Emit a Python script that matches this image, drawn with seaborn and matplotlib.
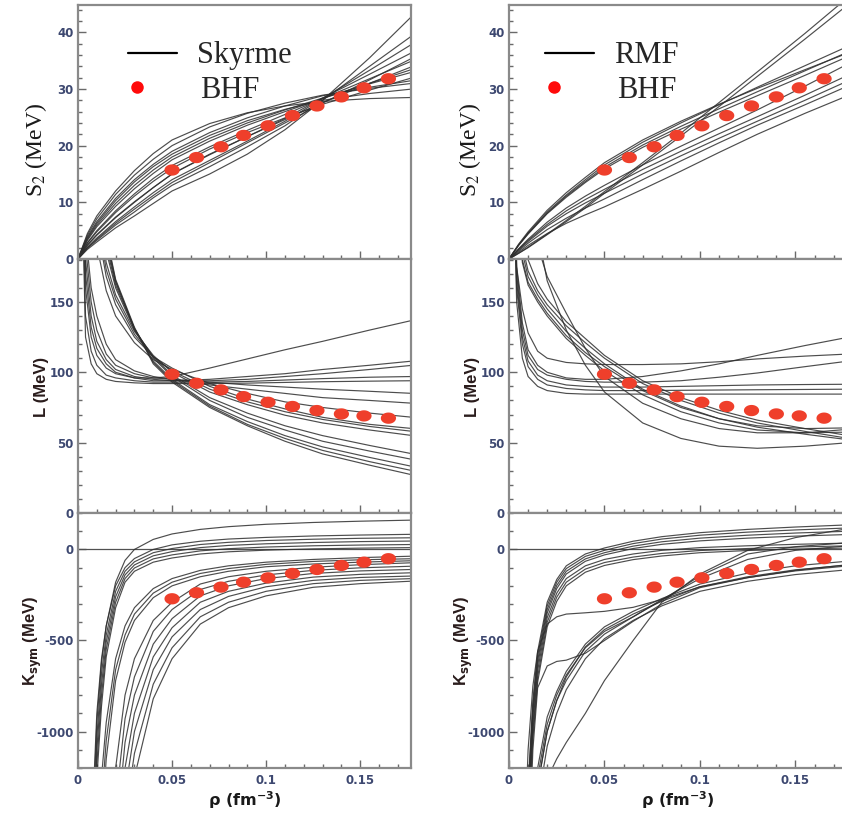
import numpy as np
import pandas as pd
import matplotlib
matplotlib.use("Agg")
import matplotlib.pyplot as plt
from matplotlib.lines import Line2D
from matplotlib.path import Path
from matplotlib.ticker import MultipleLocator
import seaborn as sns

# ---------------- data ----------------
RHO_S = [0, 0.005, 0.01, 0.02, 0.03, 0.04, 0.05, 0.07, 0.09, 0.11, 0.13, 0.155, 0.178]
RHO_L = [0.002, 0.004, 0.007, 0.01, 0.015, 0.02, 0.03, 0.04, 0.05, 0.07, 0.09, 0.11, 0.13, 0.155, 0.178]
RHO_K = [0.005, 0.0075, 0.01, 0.0125, 0.015, 0.02, 0.025, 0.03, 0.04, 0.05, 0.065, 0.08, 0.1, 0.125, 0.15, 0.178]

skyrme_S2 = [
    [0, 1.7, 3.0, 5.5, 7.6, 9.8, 12.0, 15.0, 18.5, 22.8, 28.0, 35.5, 43.0],
    [0, 1.9, 3.3, 6.0, 8.3, 10.8, 13.0, 16.3, 19.8, 23.5, 28.0, 34.0, 39.5],
    [0, 2.1, 3.7, 6.6, 9.2, 11.7, 14.0, 17.4, 20.8, 24.3, 28.3, 33.3, 38.0],
    [0, 2.4, 4.2, 7.3, 10.0, 12.6, 15.0, 18.4, 21.6, 24.8, 28.4, 32.6, 36.5],
    [0, 2.0, 3.5, 6.3, 8.8, 11.2, 13.5, 17.0, 20.5, 24.0, 27.5, 31.6, 35.5],
    [0, 2.9, 5.0, 8.5, 11.5, 14.2, 16.5, 19.8, 22.7, 25.5, 28.3, 31.8, 35.0],
    [0, 2.5, 4.3, 7.4, 10.1, 12.6, 15.0, 18.5, 21.6, 24.6, 27.6, 31.0, 34.0],
    [0, 3.3, 5.7, 9.3, 12.4, 15.1, 17.5, 20.8, 23.6, 26.0, 28.3, 31.0, 33.5],
    [0, 3.5, 6.0, 9.8, 13.0, 15.7, 18.0, 21.3, 24.0, 26.3, 28.4, 30.9, 33.0],
    [0, 2.8, 4.8, 8.2, 11.1, 13.7, 16.0, 19.4, 22.3, 24.9, 27.3, 29.8, 32.0],
    [0, 3.9, 6.6, 10.7, 14.0, 16.7, 19.0, 22.3, 24.9, 27.0, 28.8, 30.3, 31.5],
    [0, 4.2, 7.1, 11.4, 14.8, 17.6, 20.0, 23.3, 25.7, 27.5, 28.9, 30.1, 31.0],
    [0, 3.7, 6.3, 10.3, 13.6, 16.3, 18.5, 21.8, 24.4, 26.4, 28.0, 29.2, 30.0],
    [0, 4.5, 7.6, 12.0, 15.6, 18.6, 21.0, 23.9, 25.8, 27.0, 27.8, 28.3, 28.5],
]

skyrme_L = [
    [300, 160, 125, 112, 103, 99, 96, 96, 97, 103, 109.5, 116, 122, 130, 137],
    [320, 170, 132, 117, 106, 100, 96, 94, 94, 95, 97, 99, 102, 105, 108],
    [340, 180, 140, 122, 109, 102, 97, 95, 94, 94, 95, 97, 99, 102, 105],
    [260, 140, 115, 105, 98, 96, 94, 93, 93, 93, 93.5, 94.5, 95.5, 96.5, 97],
    [240, 125, 106, 99, 95, 93.5, 92.5, 92, 92, 92, 92.3, 92.8, 93.3, 93.7, 94],
    [360, 190, 150, 130, 113, 105, 99, 96, 95, 93, 91, 89.5, 88, 86.5, 85],
    [380, 200, 160, 140, 120, 109, 101, 97, 95, 91, 88, 85, 82, 80, 78],
    [600, 400, 240, 190, 158, 140, 121, 109, 102, 92, 85, 79, 75, 71, 68],
    [600, 400, 250, 205, 168, 148, 125, 111, 103, 90, 81, 74, 68, 63, 60],
    [600, 420, 260, 212, 173, 152, 127, 111, 101, 88, 79, 72, 66.5, 61.5, 58],
    [600, 430, 265, 220, 178, 155, 129, 112, 100, 86, 77, 69.5, 64, 59, 55],
    [700, 450, 280, 232, 186, 160, 130, 111, 98, 82, 71, 62, 55, 48, 42],
    [700, 460, 285, 238, 190, 162, 131, 110, 97, 80, 68, 59, 51, 44, 38],
    [700, 470, 290, 242, 193, 164, 131, 108, 95, 77, 65, 55, 47, 39.5, 33],
    [700, 480, 300, 248, 196, 165, 131, 107, 94, 76, 63, 53, 44.5, 36.5, 30],
    [700, 490, 305, 252, 198, 166, 132, 106, 93, 75, 62, 51, 42, 34, 27],
]

skyrme_K = [
    [-2500, -1500, -900, -600, -420, -180, -60, 0, 55, 85, 110, 125, 138, 148, 155, 161],
    [-3000, -1600, -950, -620, -420, -200, -100, -50, 0, 25, 45, 57, 66, 74, 79, 83],
    [-3200, -1750, -1030, -680, -470, -230, -120, -68, -18, 5, 27, 39, 49, 56, 61, 64],
    [-3400, -1900, -1100, -740, -510, -260, -140, -85, -35, -12, 10, 22, 31, 38, 43, 46],
    [-3600, -2050, -1180, -800, -550, -290, -160, -102, -52, -30, -8, 4, 13, 20, 24, 27],
    [-3800, -2200, -1260, -860, -590, -320, -180, -120, -70, -47, -25, -13, -4, 3, 7, 10],
    [-5000, -3000, -1800, -1250, -950, -600, -420, -320, -215, -160, -115, -90, -70, -55, -45, -37],
    [-5500, -3300, -2000, -1400, -1050, -660, -470, -355, -240, -180, -132, -105, -82, -66, -57, -51],
    [-6000, -3600, -2200, -1550, -1150, -720, -510, -390, -265, -200, -150, -120, -95, -80, -70, -62],
    [-20000, -12000, -7000, -4000, -2400, -1200, -800, -600, -390, -290, -190, -150, -120, -98, -84, -73],
    [-22000, -13000, -8000, -4500, -2700, -1400, -930, -700, -450, -330, -220, -175, -140, -115, -101, -92],
    [-24000, -14000, -8500, -5000, -3000, -1600, -1060, -800, -520, -380, -255, -200, -160, -132, -118, -110],
    [-26000, -15000, -9000, -5500, -3300, -1800, -1200, -900, -590, -430, -290, -230, -185, -152, -137, -128],
    [-28000, -16000, -10000, -6000, -3600, -2000, -1330, -1000, -660, -480, -330, -258, -205, -170, -154, -146],
    [-30000, -17000, -11000, -6500, -4000, -2200, -1480, -1120, -740, -540, -370, -290, -230, -188, -170, -160],
    [-32000, -18000, -12000, -7000, -4400, -2450, -1640, -1250, -820, -600, -410, -320, -255, -208, -188, -174],
]

rmf_S2 = [
    [0, 1.0, 2.1, 4.4, 6.8, 9.3, 11.9, 17.0, 22.2, 27.6, 33.0, 39.8, 46.3],
    [0, 1.0, 2.0, 4.3, 6.6, 9.0, 11.6, 16.6, 21.7, 26.9, 32.2, 38.8, 45.0],
    [0, 2.5, 4.6, 8.3, 11.3, 14.0, 16.6, 20.6, 24.0, 27.2, 30.3, 34.1, 37.6],
    [0, 2.4, 4.5, 8.1, 11.1, 13.7, 16.2, 20.1, 23.4, 26.5, 29.5, 33.2, 36.6],
    [0, 2.4, 4.4, 8.0, 10.9, 13.5, 15.9, 19.7, 22.9, 25.9, 28.8, 32.4, 35.8],
    [0, 2.6, 4.8, 8.6, 11.7, 14.4, 17.0, 21.0, 24.3, 27.3, 30.1, 33.4, 36.4],
    [0, 1.8, 3.5, 6.5, 9.0, 11.1, 13.0, 16.6, 19.9, 23.1, 26.3, 30.5, 34.5],
    [0, 1.7, 3.3, 6.1, 8.5, 10.5, 12.3, 15.8, 19.0, 22.1, 25.1, 28.9, 32.5],
    [0, 1.6, 3.1, 5.8, 8.0, 9.9, 11.6, 15.0, 18.2, 21.3, 24.3, 28.0, 31.5],
    [0, 1.2, 2.4, 4.5, 6.3, 7.8, 9.2, 12.3, 15.5, 18.8, 22.0, 25.7, 28.9],
    [0, 1.4, 2.8, 5.2, 7.2, 9.0, 10.6, 14.0, 17.3, 20.5, 23.6, 27.2, 30.6],
]

rmf_L = [
    [260, 150, 110, 97, 90, 87, 85, 84.5, 84.5, 84.5, 84.5, 84.5, 84.5, 84.5, 84.5],
    [280, 160, 120, 104, 95, 91, 88.5, 87.5, 87, 87, 87.2, 87.4, 87.6, 87.8, 88],
    [290, 165, 125, 108, 98, 94, 91, 90, 89.5, 89.5, 90, 90.5, 91, 91.3, 91.5],
    [300, 170, 130, 112, 102, 98, 95, 93.5, 93, 93, 94, 96.5, 99.5, 104, 108],
    [310, 175, 135, 116, 105, 100, 96, 95, 95, 97, 101, 106, 112, 119, 125],
    [320, 175, 145, 128, 115, 110, 107, 106, 105.5, 105.5, 106, 107.5, 109.5, 111.5, 113],
    [500, 260, 190, 172, 158, 148, 133, 121, 110, 92, 80, 71, 64, 58, 53],
    [520, 280, 200, 180, 163, 152, 136, 124, 112, 94, 82, 73, 66, 60, 55],
    [480, 250, 185, 168, 155, 145, 129, 117, 106, 88, 76, 67, 61, 56, 52],
    [460, 240, 180, 164, 152, 142, 126, 114, 104, 87, 75, 67, 62, 60, 60.5],
    [450, 235, 178, 162, 150, 140, 124, 112, 101, 84, 72, 64, 59, 57, 57.5],
    [900, 700, 500, 350, 190, 168, 142, 117, 97, 78, 67, 60, 57, 57, 59.5],
    [1000, 800, 600, 400, 200, 165, 130, 105, 86, 64, 53, 47.5, 46, 47.5, 50],
]

rmf_K = [
    [-4000, -2200, -1300, -830, -560, -290, -165, -90, -25, 8, 45, 70, 92, 110, 123, 135],
    [-4100, -2250, -1330, -860, -585, -310, -180, -105, -38, -5, 32, 57, 78, 95, 107, 118],
    [-4200, -2300, -1370, -890, -610, -330, -198, -120, -52, -18, 18, 42, 62, 78, 90, 100],
    [-4300, -2350, -1410, -920, -635, -350, -215, -135, -65, -30, 5, 28, 47, 62, 73, 82],
    [-4400, -2400, -1450, -960, -665, -375, -240, -160, -90, -55, -25, -5, 10, 20, 28, 35],
    [-4500, -2450, -1490, -1000, -700, -400, -262, -180, -108, -72, -42, -22, -6, 5, 13, 20],
    [-4600, -2500, -1530, -1040, -730, -425, -285, -200, -125, -88, -56, -36, -18, -6, 2, 8],
    [-3000, -2600, -2200, -1800, -1400, -1260, -1150, -1060, -900, -720, -500, -290, -135, -5, 65, 115],
    [-3000, -1800, -1100, -750, -560, -410, -370, -355, -348, -340, -318, -275, -205, -150, -112, -85],
    [-4000, -2600, -1800, -1100, -760, -640, -615, -608, -570, -500, -395, -300, -210, -155, -115, -83],
    [-6000, -4000, -2500, -1700, -1300, -1000, -830, -700, -535, -440, -355, -285, -205, -155, -118, -90],
    [-6500, -4300, -2700, -1850, -1400, -1080, -900, -770, -600, -490, -390, -310, -230, -175, -138, -111],
    [-6000, -3800, -2400, -1600, -1250, -960, -800, -690, -540, -450, -370, -280, -145, -25, 15, 37],
    [-6200, -3900, -2500, -1700, -1300, -1000, -830, -720, -560, -465, -370, -275, -160, -55, -5, 20],
    [-5800, -3700, -2300, -1550, -1200, -920, -780, -670, -520, -425, -340, -270, -190, -130, -90, -64],
]

bhf_rho = [0.050, 0.063, 0.076, 0.088, 0.101, 0.114, 0.127, 0.140, 0.152, 0.165]
bhf_S2 = [15.7, 17.9, 19.8, 21.8, 23.5, 25.3, 27.0, 28.6, 30.2, 31.8]
bhf_L = [98.6, 92.2, 87.5, 82.7, 78.7, 75.7, 72.8, 70.4, 69.0, 67.4]
bhf_K = [-271, -238, -207, -180, -156, -132, -110, -88, -70, -51]

model_names = ["Skyrme", "RMF"]
x_ticklabels = ["0", "0.05", "0.1", "0.15"]

# ---------------- style ----------------
sns.set_style("ticks")
plt.rcParams["font.family"] = ["DejaVu Sans"]
plt.rcParams["axes.unicode_minus"] = False

SPINE = "#8a8a8a"
TICKC = "#3d4870"
LINEC = "#2e2e2e"
DOTC = "#ef3f2b"


def long_df(grid, curves):
    rows = []
    for i, c in enumerate(curves):
        for r, v in zip(grid, c):
            rows.append((i, r, v))
    return pd.DataFrame(rows, columns=["curve", "rho", "val"])


theta = np.linspace(0, 2 * np.pi, 60)
ellipse = Path(np.column_stack([1.35 * np.cos(theta), np.sin(theta)]))

fig = plt.figure(figsize=(8.42, 8.13), dpi=100)

col_left = [78 / 842, 509 / 842]
col_width = [333 / 842, 338 / 842]
rows = [(0.6814, 0.3124), (0.369, 0.3124), (0.0554, 0.3136)]

panels = [
    [(RHO_S, skyrme_S2, bhf_S2), (RHO_L, skyrme_L, bhf_L), (RHO_K, skyrme_K, bhf_K)],
    [(RHO_S, rmf_S2, bhf_S2), (RHO_L, rmf_L, bhf_L), (RHO_K, rmf_K, bhf_K)],
]
ylims = [(0, 44.8), (0, 180.5), (-1200, 200)]
yticks = [[0, 10, 20, 30, 40], [0, 50, 100, 150], [-1000, -500, 0]]
yminor = [2, 10, 100]
label_x = [[-0.088, -0.088, -0.102], [-0.078, -0.086, -0.100]]

for c in range(2):
    for r in range(3):
        ax = fig.add_axes([col_left[c], rows[r][0], col_width[c], rows[r][1]])
        grid, curves, bhf = panels[c][r]
        df = long_df(grid, curves)
        if r == 2:
            ax.axhline(0, color="#505050", lw=0.9, zorder=1)
        sns.lineplot(data=df, x="rho", y="val", units="curve", estimator=None,
                     sort=False, color=LINEC, lw=0.85, alpha=0.85, legend=False, ax=ax)
        sns.scatterplot(x=bhf_rho, y=bhf, marker=ellipse, s=120, color=DOTC,
                        edgecolor="none", ax=ax, zorder=5, legend=False)
        ax.set_xlim(0, 0.177)
        ax.set_ylim(*ylims[r])
        ax.set_yticks(yticks[r])
        ax.yaxis.set_minor_locator(MultipleLocator(yminor[r]))
        ax.xaxis.set_major_locator(MultipleLocator(0.05))
        ax.xaxis.set_minor_locator(MultipleLocator(0.01))
        ax.tick_params(which="both", direction="in", top=False, right=False,
                       color="#6a6a6a", width=1.0)
        ax.tick_params(which="major", length=6)
        ax.tick_params(which="minor", length=3)
        ax.tick_params(axis="y", labelsize=8.5, labelcolor=TICKC, pad=3)
        ax.tick_params(axis="x", labelsize=8.5, labelcolor=TICKC, pad=4)
        for lab in ax.get_yticklabels():
            lab.set_fontweight("bold")
        for s in ax.spines.values():
            s.set_color(SPINE)
            s.set_linewidth(1.6)
        if r == 2:
            ax.set_xticks([0, 0.05, 0.1, 0.15])
            ax.set_xticklabels(x_ticklabels, fontweight="bold")
            ax.set_xlabel(r"$\mathbf{\rho}$ (fm$^{\mathbf{-3}}$)", fontsize=11.5,
                          fontweight="bold", color="#1a1a1a", labelpad=2)
        else:
            ax.set_xlabel("")
            ax.tick_params(axis="x", labelbottom=False)
        if r == 0:
            ax.set_ylabel(r"S$_2$ (MeV)", fontsize=17, family="Liberation Serif",
                          math_fontfamily="stix", color="#1a1a1a")
        elif r == 1:
            ax.set_ylabel("L (MeV)", fontsize=12, family="Liberation Sans",
                          fontweight="bold", color="#2a1c1c")
        else:
            ax.set_ylabel(r"K$_{\mathbf{sym}}$ (MeV)", fontsize=12, family="Liberation Sans",
                          fontweight="bold", color="#2a1c1c")
        ax.yaxis.set_label_coords(label_x[c][r], [0.43, 0.496, 0.5][r])

        if r == 0:
            prop = {"family": "Liberation Serif", "size": 22}
            lx = [0.15, 0.1065][c]
            leg1 = ax.legend(handles=[Line2D([], [], color="black", lw=1.6)],
                             labels=[model_names[c]], loc="center left",
                             bbox_to_anchor=(lx, 0.80), frameon=False, prop=prop,
                             handlelength=1.6, handletextpad=0.65,
                             borderpad=0, borderaxespad=0)
            ax.add_artist(leg1)
            ax.legend(handles=[Line2D([], [], marker="o", ls="none", color="#ff0a0a",
                                      ms=9, mec="none")],
                      labels=["BHF"], loc="center left",
                      bbox_to_anchor=(lx, 0.665), frameon=False, prop=prop,
                      handlelength=0.6, handletextpad=1.75,
                      borderpad=0, borderaxespad=0)

fig.savefig("out.png", dpi=100, facecolor="white")
